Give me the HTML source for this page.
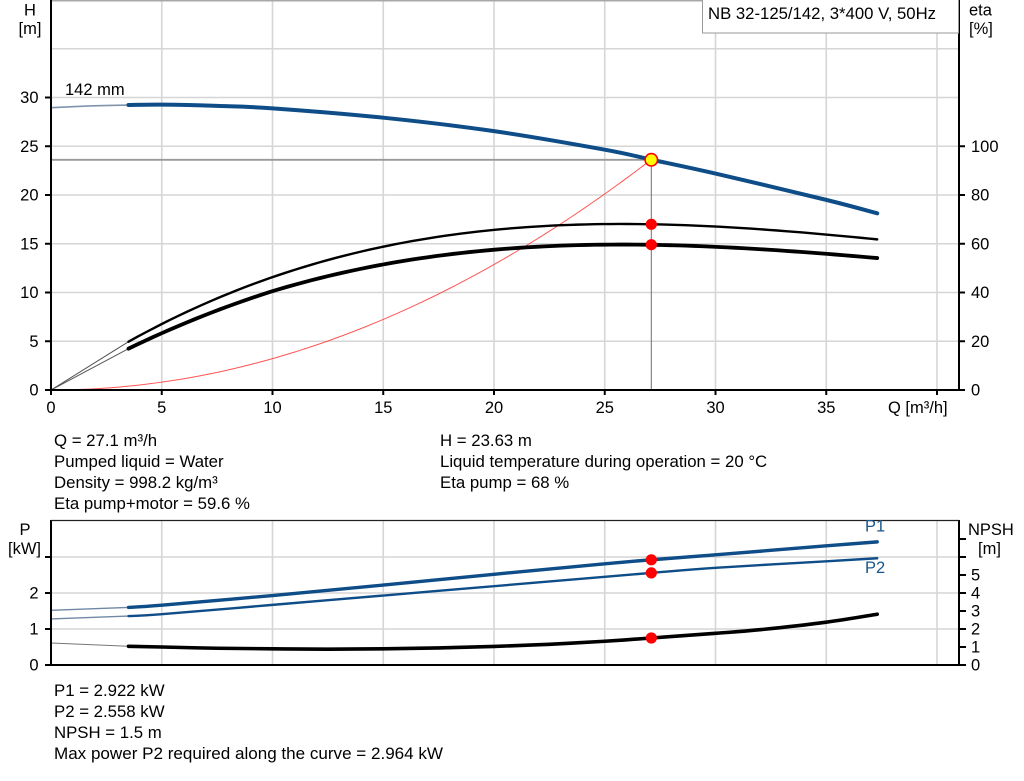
<!DOCTYPE html>
<html><head><meta charset="utf-8"><style>
html,body{margin:0;padding:0;background:#fff;}
svg{display:block;font-family:"Liberation Sans",Arial,sans-serif;}
</style></head><body>
<svg id="c" width="1024" height="781" viewBox="0 0 1024 781" xmlns="http://www.w3.org/2000/svg">
<rect width="1024" height="781" fill="#fff"/>
<!-- grid top -->
<g stroke="#d6d6d6" stroke-width="1.6" fill="none">
<line x1="161.75" y1="0" x2="161.75" y2="390"/><line x1="272.5" y1="0" x2="272.5" y2="390"/>
<line x1="383.25" y1="0" x2="383.25" y2="390"/><line x1="494" y1="0" x2="494" y2="390"/>
<line x1="604.75" y1="0" x2="604.75" y2="390"/><line x1="715.5" y1="0" x2="715.5" y2="390"/>
<line x1="826.25" y1="0" x2="826.25" y2="390"/><line x1="937" y1="0" x2="937" y2="390"/>
<line x1="51" y1="341.25" x2="959" y2="341.25"/><line x1="51" y1="292.5" x2="959" y2="292.5"/>
<line x1="51" y1="243.75" x2="959" y2="243.75"/><line x1="51" y1="195" x2="959" y2="195"/>
<line x1="51" y1="146.25" x2="959" y2="146.25"/><line x1="51" y1="97.5" x2="959" y2="97.5"/>
<line x1="51" y1="48.75" x2="959" y2="48.75"/>
<!-- grid bottom -->
<line x1="161.75" y1="520" x2="161.75" y2="665"/><line x1="272.5" y1="520" x2="272.5" y2="665"/>
<line x1="383.25" y1="520" x2="383.25" y2="665"/><line x1="494" y1="520" x2="494" y2="665"/>
<line x1="604.75" y1="520" x2="604.75" y2="665"/><line x1="715.5" y1="520" x2="715.5" y2="665"/>
<line x1="826.25" y1="520" x2="826.25" y2="665"/><line x1="937" y1="520" x2="937" y2="665"/>
<line x1="51" y1="629" x2="959" y2="629"/><line x1="51" y1="593" x2="959" y2="593"/>
<line x1="51" y1="557" x2="959" y2="557"/>
</g>
<line x1="51" y1="0.8" x2="959" y2="0.8" stroke="#a8a8a8" stroke-width="1.5"/>
<!-- duty lines -->
<line x1="51" y1="159.8" x2="651.3" y2="159.8" stroke="#9a9a9a" stroke-width="1.8"/>
<line x1="651.3" y1="159.8" x2="651.3" y2="390" stroke="#707070" stroke-width="1"/>

<g id="curves"></g>

<!-- axes -->
<g stroke="#000" stroke-width="2" fill="none">
<line x1="51" y1="0" x2="51" y2="391"/>
<line x1="959" y1="0" x2="959" y2="391"/>
<line x1="50" y1="390" x2="960" y2="390"/>
<line x1="45" y1="390" x2="51" y2="390"/><line x1="45" y1="341.25" x2="51" y2="341.25"/>
<line x1="45" y1="292.5" x2="51" y2="292.5"/><line x1="45" y1="243.75" x2="51" y2="243.75"/>
<line x1="45" y1="195" x2="51" y2="195"/><line x1="45" y1="146.25" x2="51" y2="146.25"/>
<line x1="45" y1="97.5" x2="51" y2="97.5"/>
<line x1="959" y1="390" x2="965" y2="390"/><line x1="959" y1="341.25" x2="965" y2="341.25"/>
<line x1="959" y1="292.5" x2="965" y2="292.5"/><line x1="959" y1="243.75" x2="965" y2="243.75"/>
<line x1="959" y1="195" x2="965" y2="195"/><line x1="959" y1="146.25" x2="965" y2="146.25"/>
<line x1="51" y1="390" x2="51" y2="395"/><line x1="161.75" y1="390" x2="161.75" y2="395"/>
<line x1="272.5" y1="390" x2="272.5" y2="395"/><line x1="383.25" y1="390" x2="383.25" y2="395"/>
<line x1="494" y1="390" x2="494" y2="395"/><line x1="604.75" y1="390" x2="604.75" y2="395"/>
<line x1="715.5" y1="390" x2="715.5" y2="395"/><line x1="826.25" y1="390" x2="826.25" y2="395"/>
<line x1="937" y1="390" x2="937" y2="395"/>
<line x1="51" y1="520" x2="51" y2="666"/>
<line x1="959" y1="520" x2="959" y2="666"/>
<line x1="50" y1="665" x2="960" y2="665"/>
<line x1="45" y1="665" x2="51" y2="665"/><line x1="45" y1="629" x2="51" y2="629"/>
<line x1="45" y1="593" x2="51" y2="593"/><line x1="45" y1="557" x2="51" y2="557"/>
<line x1="959" y1="665" x2="966" y2="665"/><line x1="959" y1="647" x2="966" y2="647"/>
<line x1="959" y1="629" x2="966" y2="629"/><line x1="959" y1="611" x2="966" y2="611"/>
<line x1="959" y1="593" x2="966" y2="593"/><line x1="959" y1="575" x2="966" y2="575"/>
<line x1="959" y1="557" x2="966" y2="557"/><line x1="959" y1="539" x2="966" y2="539"/>
</g>
<line x1="51" y1="520.5" x2="959" y2="520.5" stroke="#222" stroke-width="1.3"/>

<!-- legend box -->
<rect x="702.5" y="-1" width="256" height="34" fill="#fff" stroke="#999" stroke-width="1"/>
<text x="708" y="19" font-size="16.8" fill="#000" textLength="228" lengthAdjust="spacingAndGlyphs">NB 32-125/142, 3*400 V, 50Hz</text>

<!-- markers -->
<circle cx="651.3" cy="224.3" r="5.6" fill="#ff0000"/>
<circle cx="651.3" cy="244.7" r="5.6" fill="#ff0000"/>
<circle cx="651.3" cy="159.8" r="6.2" fill="#ffff00" stroke="#ff0000" stroke-width="1.6"/>
<circle cx="651.3" cy="559.8" r="5.6" fill="#ff0000"/>
<circle cx="651.3" cy="572.9" r="5.6" fill="#ff0000"/>
<circle cx="651.3" cy="638" r="5.6" fill="#ff0000"/>

<!-- text -->
<g font-size="16.5" fill="#000">
<text x="30" y="15.5" text-anchor="middle">H</text>
<text x="30" y="34" text-anchor="middle">[m]</text>
<text x="969" y="15.5">eta</text>
<text x="969" y="34">[%]</text>
<text x="65" y="95">142 mm</text>
<g text-anchor="end">
<text x="38.5" y="395.7">0</text><text x="38.5" y="347">5</text>
<text x="38.5" y="298.2">10</text><text x="38.5" y="249.5">15</text>
<text x="38.5" y="200.7">20</text><text x="38.5" y="152">25</text>
<text x="38.5" y="103.2">30</text>
<text x="38.5" y="670.7">0</text><text x="38.5" y="634.7">1</text>
<text x="38.5" y="598.7">2</text>
</g>
<g>
<text x="971" y="395.7">0</text><text x="971" y="347">20</text>
<text x="971" y="298.2">40</text><text x="971" y="249.5">60</text>
<text x="971" y="200.7">80</text><text x="971" y="152">100</text>
<text x="971" y="670.7">0</text><text x="971" y="652.7">1</text>
<text x="971" y="634.7">2</text><text x="971" y="616.7">3</text>
<text x="971" y="598.7">4</text><text x="971" y="580.7">5</text>
</g>
<g text-anchor="middle">
<text x="51" y="413">0</text><text x="161.75" y="413">5</text>
<text x="272.5" y="413">10</text><text x="383.25" y="413">15</text>
<text x="494" y="413">20</text><text x="604.75" y="413">25</text>
<text x="715.5" y="413">30</text><text x="826.25" y="413">35</text>
</g>
<text x="888" y="413">Q [m³/h]</text>
<text x="25" y="535" text-anchor="middle">P</text>
<text x="24.5" y="554" text-anchor="middle">[kW]</text>
<text x="968" y="535">NPSH</text>
<text x="978" y="554">[m]</text>
<text x="865" y="531.5" fill="#1a578c">P1</text>
<text x="865" y="573" fill="#1a578c">P2</text>
</g>
<g font-size="16.8" fill="#000">
<text x="54" y="446">Q = 27.1 m³/h</text>
<text x="54" y="467">Pumped liquid = Water</text>
<text x="54" y="488">Density = 998.2 kg/m³</text>
<text x="54" y="509">Eta pump+motor = 59.6 %</text>
<text x="440" y="446">H = 23.63 m</text>
<text x="440" y="467">Liquid temperature during operation = 20 °C</text>
<text x="440" y="488">Eta pump = 68 %</text>
<text x="54" y="696">P1 = 2.922 kW</text>
<text x="54" y="717">P2 = 2.558 kW</text>
<text x="54" y="738">NPSH = 1.5 m</text>
<text x="54" y="759" textLength="389" lengthAdjust="spacingAndGlyphs">Max power P2 required along the curve = 2.964 kW</text>
</g>
</svg>
<script>
(function(){
var NS="http://www.w3.org/2000/svg";
var g=document.getElementById('curves');
function X(q){return 51+22.15*q;}
function YH(h){return 390-9.75*h;}
function YP(p){return 665-36*p;}
function YN(n){return 665-18*n;}
function f2(v){return v.toFixed(2);}
function spline(data,Y){
  var pts=data.map(function(d){return [X(d[0]),Y(d[1])];});
  var d='M'+f2(pts[0][0])+','+f2(pts[0][1]);
  for(var i=0;i<pts.length-1;i++){
    var p0=pts[i>0?i-1:0],p1=pts[i],p2=pts[i+1],p3=pts[i+2<pts.length?i+2:i+1];
    var c1x=p1[0]+(p2[0]-p0[0])/6,c1y=p1[1]+(p2[1]-p0[1])/6;
    var c2x=p2[0]-(p3[0]-p1[0])/6,c2y=p2[1]-(p3[1]-p1[1])/6;
    d+=' C'+f2(c1x)+','+f2(c1y)+' '+f2(c2x)+','+f2(c2y)+' '+f2(p2[0])+','+f2(p2[1]);
  }
  return d;
}
function fpath(f,q0,q1,Y,n){
  var s='';
  for(var i=0;i<=n;i++){var q=q0+(q1-q0)*i/n; s+=(i?' L':'M')+f2(X(q))+','+f2(Y(f(q)));}
  return s;
}
function add(d,stroke,w,op){
  var p=document.createElementNS(NS,'path');
  p.setAttribute('d',d);p.setAttribute('fill','none');p.setAttribute('stroke',stroke);
  p.setAttribute('stroke-width',w);p.setAttribute('stroke-linecap','round');p.setAttribute('stroke-linejoin','round');
  if(op)p.setAttribute('stroke-opacity',op);
  g.appendChild(p);
}
function etaU(q){return 1.5677*q-0.044734*q*q+3.702e-4*q*q*q;}
function etaL(q){return etaU(q)*(0.876-0.003*Math.max(0,10-q));}
function sys(q){return 23.63*Math.pow(q/27.1,2);}
add(fpath(sys,0,27.1,YH,80),'#ff2a2a',1,0.8);
add('M'+X(0)+','+YH(0)+' L'+f2(X(3.5))+','+f2(YH(etaU(3.5))),'#555',1);
add('M'+X(0)+','+YH(0)+' L'+f2(X(3.5))+','+f2(YH(etaL(3.5))),'#555',1);
add(fpath(etaU,3.5,37.3,YH,90),'#000',2.4);
add(fpath(etaL,3.5,37.3,YH,90),'#000',3.8);
add(spline([[0,28.96],[1.75,29.13],[3.5,29.23]],YH),'#8094ae',1.6);
add(spline([[3.5,29.23],[5,29.27],[7.5,29.14],[10,28.89],[15,27.93],[20,26.55],[25,24.65],[27.1,23.63],[30,22.2],[35,19.5],[37.3,18.12]],YH),'#0e4d87',4);
add('M'+X(0)+','+f2(YP(1.52))+' L'+f2(X(3.5))+','+f2(YP(1.6)),'#6f88a6',1.4);
add(spline([[3.5,1.6],[5,1.66],[10,1.93],[15,2.22],[20,2.52],[25,2.81],[27.1,2.922],[30,3.06],[35,3.31],[37.3,3.42]],YP),'#0e4d87',3.4);
add('M'+X(0)+','+f2(YP(1.28))+' L'+f2(X(3.5))+','+f2(YP(1.36)),'#6f88a6',1.3);
add(spline([[3.5,1.36],[5,1.41],[10,1.67],[15,1.93],[20,2.19],[25,2.45],[27.1,2.558],[30,2.7],[35,2.88],[37.3,2.965]],YP),'#0e4d87',2.4);
add('M'+X(0)+','+f2(YN(1.22))+' L'+f2(X(3.5))+','+f2(YN(1.04)),'#777',1);
add(spline([[3.5,1.04],[5,1.0],[7.5,0.93],[10,0.9],[12.5,0.88],[15,0.9],[17.5,0.95],[20,1.03],[22.5,1.15],[25,1.32],[27.1,1.5],[30,1.76],[32,1.96],[35,2.38],[37.3,2.82]],YN),'#000',3.6);
})();
</script>
</body></html>
